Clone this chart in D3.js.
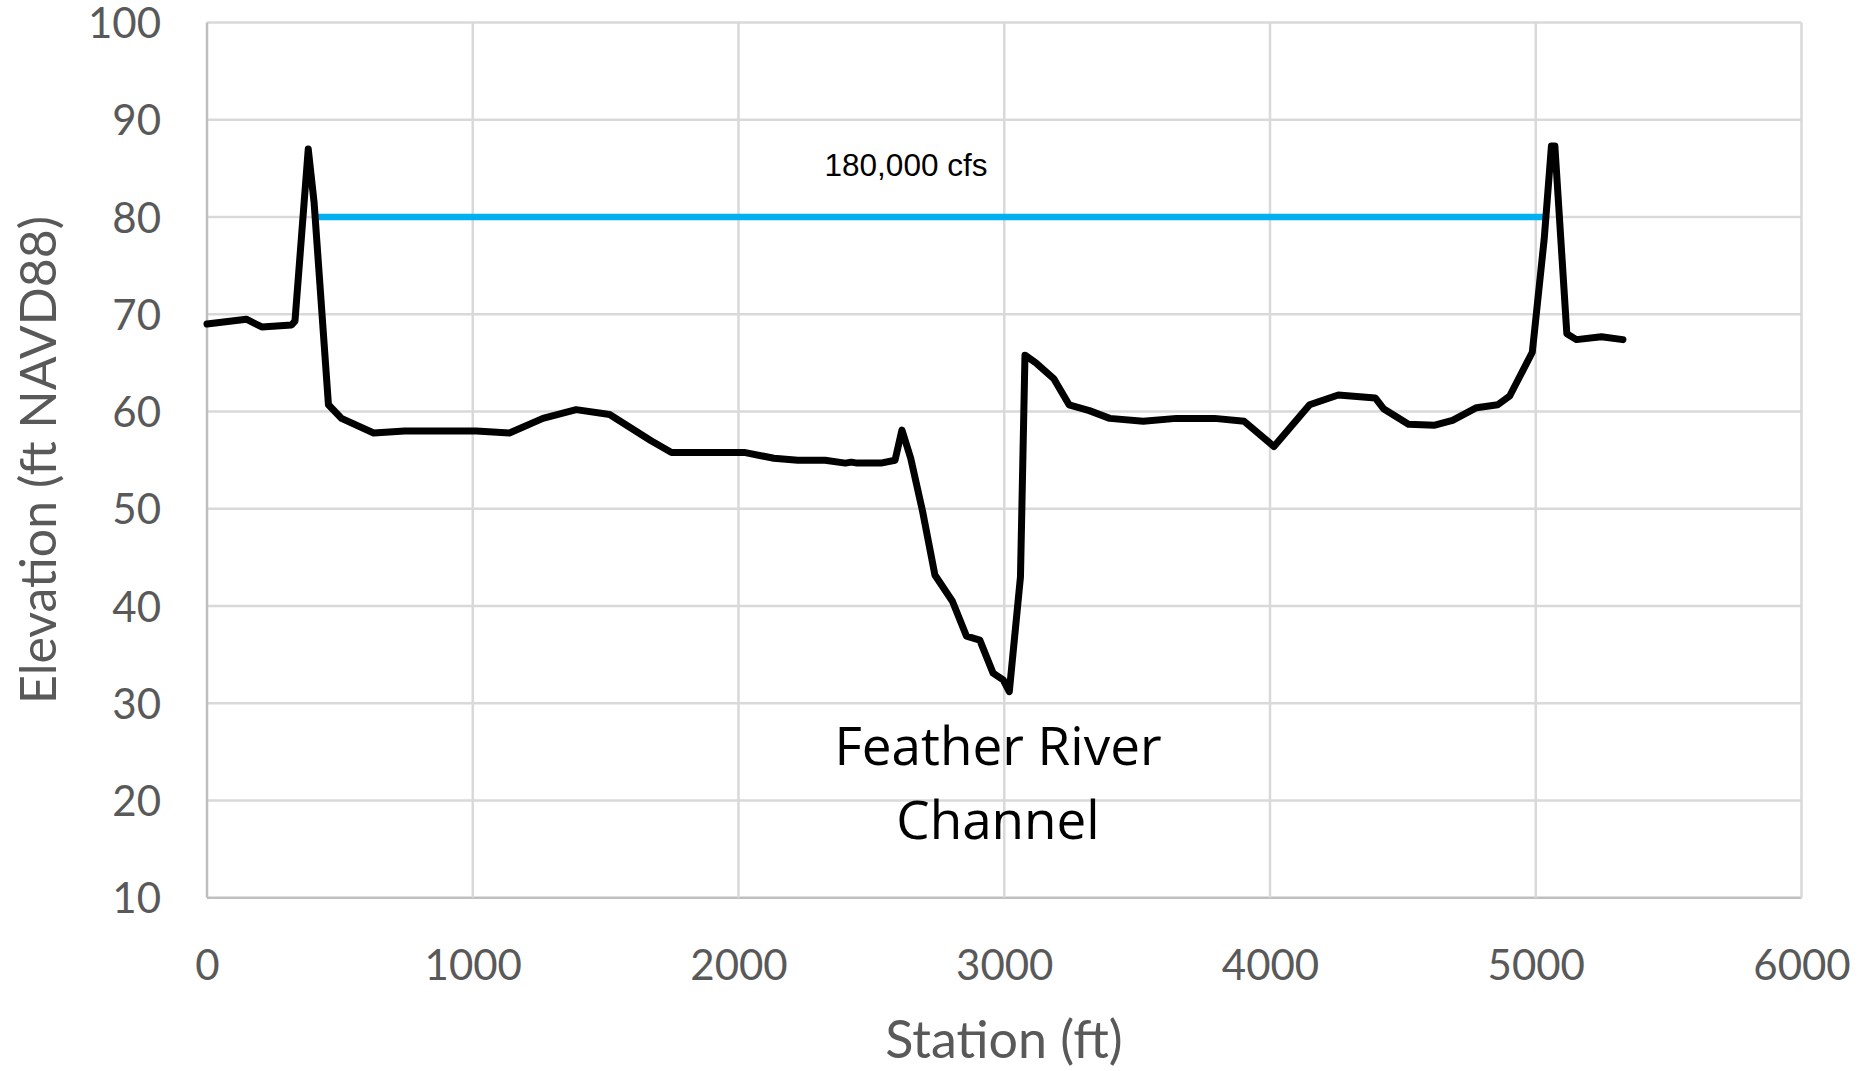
<!DOCTYPE html>
<html><head><meta charset="utf-8">
<script src="https://cdn.jsdelivr.net/npm/d3@7"></script>
<style>body{margin:0;background:#fff}</style>
</head><body>
<svg id="c" width="1867" height="1071"></svg>
<script>
const station = [0,148,206,318,331,381,403,457,506,627,744,1013,1138,1264,1389,1515,1671,1748,2021,2133,2223,2326,2402,2424,2447,2536,2589,2615,2648,2693,2739,2805,2858,2908,2958,2996,3019,3061,3078,3119,3186,3244,3320,3397,3523,3648,3791,3903,4015,4149,4257,4396,4427,4521,4620,4687,4777,4857,4902,4987,5032,5059,5072,5117,5153,5247,5328];
const elevation = [69.0,69.5,68.7,68.9,69.3,87.0,81.5,60.7,59.3,57.8,58.0,58.0,57.8,59.3,60.2,59.7,57.0,55.8,55.8,55.2,55.0,55.0,54.7,54.8,54.7,54.7,55.0,58.1,55.2,49.7,43.2,40.5,36.9,36.5,33.1,32.4,31.2,43.0,65.8,65.0,63.4,60.7,60.1,59.3,59.0,59.3,59.3,59.0,56.4,60.7,61.7,61.4,60.3,58.7,58.6,59.1,60.4,60.7,61.6,66.1,77.8,87.3,87.3,68.0,67.4,67.7,67.4];
const waterStation = [417, 5037];
const waterElevation = [80, 80];
const xTicks = [0,1000,2000,3000,4000,5000,6000];
const yTicks = [10,20,30,40,50,60,70,80,90,100];

const svg = d3.select('#c');
const L=207, R=1801.5, T=22.6, B=897.8;
const x = d3.scaleLinear().domain([0,6000]).range([L,R]);
const y = d3.scaleLinear().domain([10,100]).range([B,T]);

// gridlines
const g = svg.append('g');
g.selectAll('.hg').data(yTicks).join('line')
  .attr('x1',L).attr('x2',R).attr('y1',d=>y(d)).attr('y2',d=>y(d))
  .attr('stroke',d=>d===10?'#bfbfbf':'#d9d9d9').attr('stroke-width',2.5);
g.selectAll('.vg').data(xTicks).join('line')
  .attr('y1',T).attr('y2',B).attr('x1',d=>x(d)).attr('x2',d=>x(d))
  .attr('stroke',d=>d===0?'#bfbfbf':'#d9d9d9').attr('stroke-width',2.5);

// axes (labels only)
const xAxis = d3.axisBottom(x).tickValues(xTicks).tickSize(0).tickPadding(0).tickFormat(d3.format('d'));
const ax = svg.append('g').attr('transform',`translate(0,${B})`).call(xAxis);
ax.select('.domain').remove();
ax.selectAll('text').attr('dy',null).attr('y',82).attr('font-family','Lato').attr('font-size',42).attr('fill','#595959');

const yAxis = d3.axisLeft(y).tickValues(yTicks).tickSize(0).tickPadding(0).tickFormat(d3.format('d'));
const ay = svg.append('g').attr('transform',`translate(${L},0)`).call(yAxis);
ay.select('.domain').remove();
ay.selectAll('text').attr('x',-46).attr('dy','0.36em').attr('font-family','Lato').attr('font-size',42).attr('fill','#595959');

// water surface
const line = d3.line().x(d=>x(d[0])).y(d=>y(d[1]));
svg.append('path').datum(d3.zip(waterStation,waterElevation)).attr('d',line)
  .attr('fill','none').attr('stroke','#00b0f0').attr('stroke-width',6.5);

// ground profile
svg.append('path').datum(d3.zip(station,elevation)).attr('d',line)
  .attr('fill','none').attr('stroke','#000').attr('stroke-width',7)
  .attr('stroke-linejoin','round').attr('stroke-linecap','round');

// annotations
svg.append('text').attr('x',906).attr('y',176).attr('text-anchor','middle')
  .attr('font-family','Liberation Sans').attr('font-size',31.5).attr('fill','#000').text('180,000 cfs');
svg.append('text').attr('x',998).attr('y',765).attr('text-anchor','middle')
  .attr('font-family','Open Sans').attr('font-size',53).attr('fill','#000').text('Feather River');
svg.append('text').attr('x',998).attr('y',839).attr('text-anchor','middle')
  .attr('font-family','Open Sans').attr('font-size',53).attr('fill','#000').text('Channel');

// axis titles
svg.append('text').attr('x',1004).attr('y',1058).attr('text-anchor','middle')
  .attr('font-family','Lato').attr('font-size',52).attr('fill','#595959').text('Station (ft)');
svg.append('text').attr('transform','translate(56,460) rotate(-90)').attr('text-anchor','middle')
  .attr('font-family','Lato').attr('font-size',50).attr('fill','#595959').text('Elevation (ft NAVD88)');
</script>
</body></html>
